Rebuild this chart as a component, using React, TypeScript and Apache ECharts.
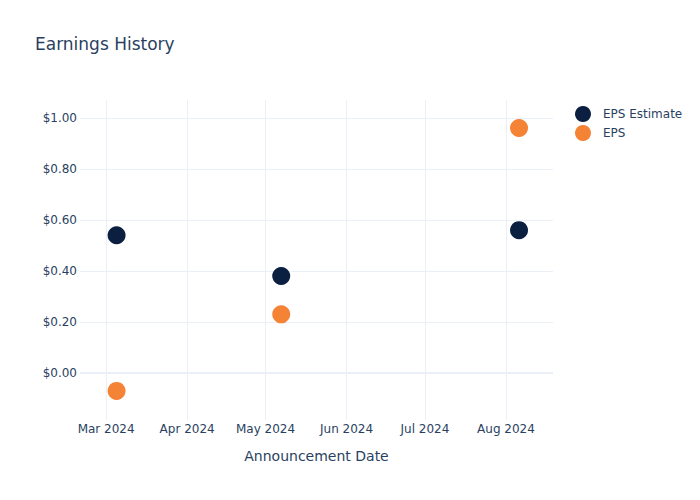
import React, { useEffect, useRef } from "react";
import * as echarts from "echarts";

const dates = ["2024-03-05", "2024-05-07", "2024-08-06"];
const epsEstimate = [0.54, 0.38, 0.56];
const eps = [-0.07, 0.23, 0.96];
const xMin = "2024-02-20";
const xMax = "2024-08-19";
const yMin = -0.184;
const yMax = 1.07;

const TEXT = "#2a3f5f";
const GRID = "#ebf0f8";
const FONT = "DejaVu Sans, Verdana, sans-serif";

export default function App() {
  const ref = useRef<HTMLDivElement>(null);
  useEffect(() => {
    if (!ref.current) return;
    const chart = echarts.init(ref.current, undefined, { renderer: "svg" });
    chart.setOption({
      animation: false,
      backgroundColor: "#fff",
      textStyle: { fontFamily: FONT, color: TEXT },
      title: {
        text: "Earnings History",
        left: 35,
        top: 35,
        padding: 0,
        textStyle: { fontFamily: FONT, fontSize: 17, fontWeight: "normal", color: TEXT },
      },
      legend: {
        orient: "vertical",
        left: 570,
        top: 101,
        icon: "circle",
        itemWidth: 16,
        itemHeight: 16,
        itemGap: 3,
        textStyle: { fontFamily: FONT, fontSize: 12, color: TEXT, padding: [0, 0, 0, 7] },
        data: ["EPS Estimate", "EPS"],
      },
      grid: { left: 80, right: 147, top: 100, bottom: 80 },
      xAxis: {
        type: "time",
        min: xMin,
        max: xMax,
        splitNumber: 6,
        name: "Announcement Date",
        nameLocation: "middle",
        nameGap: 29,
        nameTextStyle: { fontFamily: FONT, fontSize: 14, color: TEXT },
        axisLine: { show: false },
        axisTick: { show: false },
        axisLabel: {
          formatter: "{MMM} {yyyy}",
          fontFamily: FONT,
          fontSize: 12,
          color: TEXT,
          margin: 3,
          hideOverlap: false,
          rich: {},
        },
        splitLine: {
          show: true,
          showMinLine: false,
          showMaxLine: false,
          lineStyle: { color: GRID, width: 1 },
        },
      },
      yAxis: {
        type: "value",
        min: yMin,
        max: yMax,
        splitNumber: 6,
        axisLine: { show: false },
        axisTick: { show: false },
        axisLabel: {
          formatter: (v: number) => "$" + v.toFixed(2),
          fontFamily: FONT,
          fontSize: 12,
          color: TEXT,
          margin: 3,
          showMinLabel: false,
          showMaxLabel: false,
        },
        splitLine: {
          show: true,
          showMinLine: false,
          showMaxLine: false,
          lineStyle: { color: GRID, width: 1 },
        },
      },
      series: [
        {
          name: "EPS Estimate",
          type: "scatter",
          symbolSize: 18,
          itemStyle: { color: "#0b1f41", opacity: 1 },
          data: dates.map((d, i) => [d, epsEstimate[i]]),
          z: 3,
          markLine: {
            silent: true,
            symbol: "none",
            label: { show: false },
            lineStyle: { color: GRID, width: 2, type: "solid" },
            data: [{ yAxis: 0 }],
            z: 1,
          },
        },
        {
          name: "EPS",
          type: "scatter",
          symbolSize: 18,
          itemStyle: { color: "#f58336", opacity: 1 },
          data: dates.map((d, i) => [d, eps[i]]),
          z: 3,
        },
      ],
    });
    return () => chart.dispose();
  }, []);
  return <div ref={ref} style={{ width: 700, height: 500, margin: -8 }} />;
}
